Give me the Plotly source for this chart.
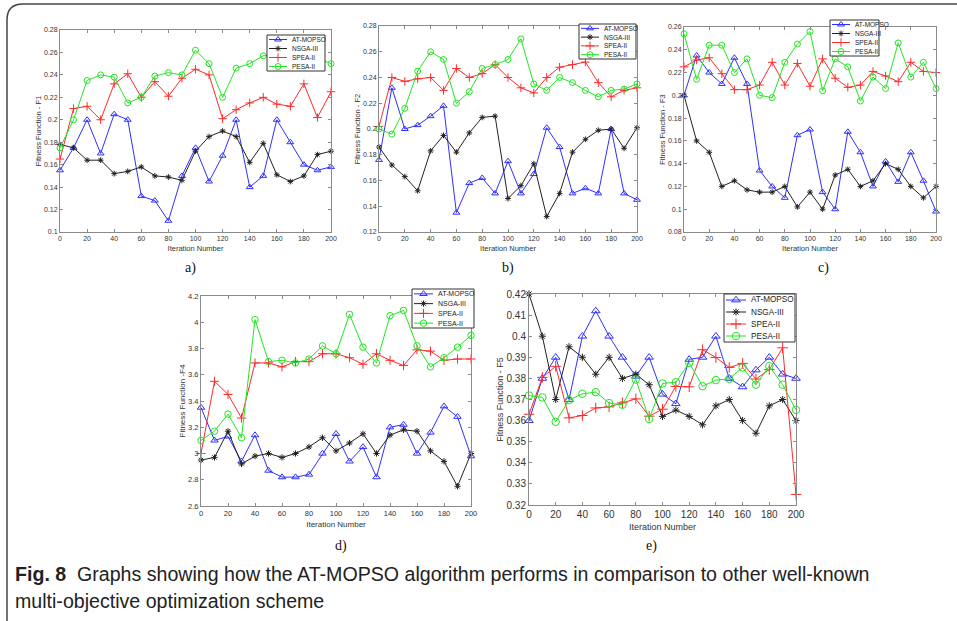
import plotly.graph_objects as go

# ---------------- data ----------------
iterations = list(range(0, 201, 10))
series_names = ["AT-MOPSO", "NSGA-III", "SPEA-II", "PESA-II"]
panel_labels = ["a)", "b)", "c)", "d)", "e)"]
y_titles = ["Fitness Function - F1", "Fitness Function - F2", "Fitness Function - F3",
            "Fitness Function -F4", "Fitness Function - F5"]
x_title = "Iteration Number"

f1_at_mopso = [0.155, 0.175, 0.200, 0.170, 0.205, 0.200, 0.132, 0.128, 0.110, 0.150, 0.175,
               0.145, 0.168, 0.200, 0.140, 0.150, 0.200, 0.180, 0.160, 0.155, 0.158]
f1_nsga3 = [0.178, 0.175, 0.164, 0.164, 0.152, 0.154, 0.158, 0.150, 0.149, 0.146, 0.172,
            0.185, 0.190, 0.185, 0.162, 0.179, 0.151, 0.145, 0.150, 0.169, 0.172]
f1_spea2 = [0.165, 0.210, 0.212, 0.200, 0.232, 0.241, 0.220, 0.234, 0.221, 0.237, 0.245,
            0.240, 0.201, 0.209, 0.215, 0.220, 0.214, 0.212, 0.232, 0.202, 0.225]
f1_pesa2 = [0.175, 0.200, 0.235, 0.240, 0.238, 0.215, 0.220, 0.239, 0.242, 0.240, 0.262,
            0.250, 0.220, 0.246, 0.250, 0.257, 0.258, 0.256, 0.259, 0.255, 0.250]

f2_at_mopso = [0.176, 0.232, 0.200, 0.203, 0.210, 0.218, 0.135, 0.158, 0.162, 0.150, 0.175,
               0.150, 0.165, 0.201, 0.186, 0.150, 0.154, 0.150, 0.200, 0.150, 0.145]
f2_nsga3 = [0.186, 0.172, 0.163, 0.152, 0.183, 0.195, 0.182, 0.197, 0.209, 0.210, 0.146,
            0.156, 0.173, 0.132, 0.150, 0.182, 0.192, 0.199, 0.200, 0.185, 0.201]
f2_spea2 = [0.202, 0.240, 0.237, 0.239, 0.240, 0.230, 0.247, 0.240, 0.243, 0.250, 0.240,
            0.232, 0.228, 0.240, 0.248, 0.250, 0.252, 0.236, 0.225, 0.230, 0.232]
f2_pesa2 = [0.200, 0.196, 0.216, 0.245, 0.260, 0.254, 0.220, 0.229, 0.247, 0.250, 0.254,
            0.270, 0.235, 0.230, 0.240, 0.236, 0.230, 0.225, 0.230, 0.231, 0.235]

f3_at_mopso = [0.200, 0.235, 0.220, 0.210, 0.233, 0.210, 0.134, 0.120, 0.110, 0.165, 0.170,
               0.115, 0.100, 0.168, 0.150, 0.120, 0.142, 0.124, 0.150, 0.125, 0.098]
f3_nsga3 = [0.200, 0.160, 0.150, 0.120, 0.125, 0.117, 0.115, 0.115, 0.120, 0.102, 0.115,
            0.100, 0.130, 0.135, 0.120, 0.125, 0.140, 0.135, 0.120, 0.110, 0.120]
f3_spea2 = [0.225, 0.231, 0.233, 0.219, 0.205, 0.205, 0.209, 0.229, 0.209, 0.228, 0.208,
            0.232, 0.215, 0.207, 0.209, 0.221, 0.217, 0.212, 0.229, 0.221, 0.220]
f3_pesa2 = [0.254, 0.214, 0.244, 0.244, 0.220, 0.232, 0.200, 0.198, 0.229, 0.245, 0.256,
            0.204, 0.232, 0.225, 0.195, 0.216, 0.206, 0.246, 0.216, 0.229, 0.206]

f4_at_mopso = [3.35, 3.10, 3.13, 2.94, 3.14, 2.87, 2.82, 2.82, 2.84, 3.00, 3.15,
               2.94, 3.05, 2.82, 3.20, 3.22, 3.00, 3.16, 3.36, 3.28, 2.98]
f4_nsga3 = [2.95, 2.97, 3.17, 2.92, 2.98, 3.00, 2.97, 3.00, 3.05, 3.12, 3.02,
            3.08, 3.15, 3.00, 3.14, 3.18, 3.17, 3.02, 2.94, 2.75, 3.00]
f4_spea2 = [3.00, 3.55, 3.45, 3.27, 3.69, 3.69, 3.66, 3.70, 3.70, 3.76, 3.76,
            3.73, 3.68, 3.76, 3.71, 3.67, 3.79, 3.78, 3.71, 3.72, 3.72]
f4_pesa2 = [3.10, 3.17, 3.30, 3.12, 4.02, 3.70, 3.71, 3.69, 3.72, 3.82, 3.76,
            4.06, 3.81, 3.69, 4.05, 4.09, 3.82, 3.66, 3.73, 3.81, 3.90]

f5_at_mopso = [0.360, 0.380, 0.390, 0.370, 0.400, 0.412, 0.400, 0.390, 0.381, 0.390, 0.3725,
               0.368, 0.389, 0.390, 0.400, 0.380, 0.376, 0.384, 0.390, 0.382, 0.380]
f5_nsga3 = [0.420, 0.400, 0.370, 0.395, 0.390, 0.382, 0.390, 0.380, 0.382, 0.377, 0.362,
            0.365, 0.362, 0.358, 0.367, 0.370, 0.360, 0.354, 0.367, 0.370, 0.360]
f5_spea2 = [0.363, 0.3805, 0.3857, 0.3613, 0.3624, 0.366, 0.3665, 0.3684, 0.3703, 0.3621, 0.3654,
            0.3762, 0.376, 0.3936, 0.3899, 0.3852, 0.3871, 0.3797, 0.3842, 0.3945, 0.325]
f5_pesa2 = [0.3719, 0.371, 0.3594, 0.3697, 0.3727, 0.3735, 0.3683, 0.3675, 0.3795, 0.3608, 0.3776,
            0.3782, 0.3874, 0.3763, 0.3792, 0.3798, 0.3852, 0.377, 0.3858, 0.377, 0.3651]

panel_series = [
    [f1_at_mopso, f1_nsga3, f1_spea2, f1_pesa2],
    [f2_at_mopso, f2_nsga3, f2_spea2, f2_pesa2],
    [f3_at_mopso, f3_nsga3, f3_spea2, f3_pesa2],
    [f4_at_mopso, f4_nsga3, f4_spea2, f4_pesa2],
    [f5_at_mopso, f5_nsga3, f5_spea2, f5_pesa2],
]
y_ranges = [(0.10, 0.28), (0.12, 0.28), (0.08, 0.26), (2.6, 4.2), (0.32, 0.42)]
y_dticks = [0.02, 0.02, 0.02, 0.2, 0.01]

# ---------------- layout helpers ----------------
W, H = 957, 621


def fx(p):
    return p / W


def fy(p):
    return 1 - p / H


# plot areas in pixels: (left, right, top, bottom)
boxes = [(60, 331, 30, 232), (379, 637, 26, 232), (684, 936, 27, 232),
         (201, 471, 296, 506), (529, 796, 294, 505)]
# legend boxes in pixels: (left, right, top, bottom)
legend_boxes = [(267, 325, 35, 71), (579, 636, 24, 59), (830, 879, 20, 56),
                (412, 474, 289, 328), (724, 795, 294, 342)]
legend_line_len = [18, 18, 18, 19, 20]
label_pos = [(190, 268), (508, 268), (823, 268), (341, 546), (651, 546)]
tick_sizes = [7, 7, 7, 7.5, 10]
title_sizes = [7.5, 7.5, 7.5, 8, 9]
legend_sizes = [6.5, 6.5, 6.5, 7, 8.2]
marker_sizes = [6, 6, 6, 6.5, 7.5]

styles = [
    dict(color="#2f2fff", symbol="triangle-up-open", k=1.0),
    dict(color="#222222", symbol="asterisk-open", k=0.8),
    dict(color="#ff2a2a", symbol="cross-thin-open", k=1.0),
    dict(color="#22e622", symbol="circle-open", k=1.0),
]

fig = go.Figure()
layout = dict(
    width=W, height=H,
    margin=dict(l=0, r=0, t=0, b=0, autoexpand=False),
    paper_bgcolor="white", plot_bgcolor="rgba(0,0,0,0)",
    font=dict(family="Liberation Sans, Arial, sans-serif", color="#333333"),
    showlegend=False,
)

annotations = []
for i in range(5):
    n = i + 1
    xa = "x" if n == 1 else f"x{n}"
    ya = "y" if n == 1 else f"y{n}"
    left, right, top, bottom = boxes[i]
    for s, name in enumerate(series_names):
        st = styles[s]
        fig.add_trace(go.Scatter(
            x=iterations, y=panel_series[i][s], name=name, mode="lines+markers",
            xaxis=xa, yaxis=ya, cliponaxis=False,
            line=dict(color=st["color"], width=1),
            marker=dict(symbol=st["symbol"], size=marker_sizes[i] * st["k"], color=st["color"],
                        line=dict(color=st["color"], width=1)),
        ))
    axis_common = dict(
        showline=True, linecolor="#8a8a8a", linewidth=1, mirror="ticks",
        ticks="inside", ticklen=3, tickcolor="#8a8a8a", showgrid=False, zeroline=False,
        automargin=False, tickfont=dict(size=tick_sizes[i], color="#333333"),
    )
    layout["xaxis" if n == 1 else f"xaxis{n}"] = dict(
        axis_common, domain=[fx(left), fx(right)], anchor=ya, range=[0, 200],
        tick0=0, dtick=20,
        title=dict(text=x_title, font=dict(size=title_sizes[i], color="#333333"), standoff=4),
    )
    layout["yaxis" if n == 1 else f"yaxis{n}"] = dict(
        axis_common, domain=[fy(bottom), fy(top)], anchor=xa, range=list(y_ranges[i]),
        tick0=y_ranges[i][0], dtick=y_dticks[i],
        title=dict(text=y_titles[i], font=dict(size=title_sizes[i], color="#333333"), standoff=1),
    )
    bx, by = label_pos[i]
    annotations.append(dict(
        x=fx(bx), y=fy(by), xref="paper", yref="paper", text=panel_labels[i],
        showarrow=False, xanchor="center", yanchor="middle",
        font=dict(family="Liberation Serif, Times New Roman, serif", size=14, color="#111111"),
    ))

# ---------------- legends (drawn on a hidden full-page overlay axis, in pixels) ----------------
layout["xaxis6"] = dict(domain=[0, 1], range=[0, W], visible=False, fixedrange=True, anchor="y6")
layout["yaxis6"] = dict(domain=[0, 1], range=[H, 0], visible=False, fixedrange=True, anchor="x6")
for i in range(5):
    x0, x1, y0, y1 = legend_boxes[i]
    fig.add_trace(go.Scatter(
        x=[x0, x1, x1, x0, x0], y=[y0, y0, y1, y1, y0], xaxis="x6", yaxis="y6",
        mode="lines", fill="toself", fillcolor="white",
        line=dict(color="#333333", width=1), hoverinfo="skip", showlegend=False,
    ))
    row_h = (y1 - y0) / 4
    for s, name in enumerate(series_names):
        st = styles[s]
        ry = y0 + (s + 0.5) * row_h
        lx0 = x0 + 2
        lx1 = lx0 + legend_line_len[i]
        fig.add_trace(go.Scatter(
            x=[lx0, lx1], y=[ry, ry], xaxis="x6", yaxis="y6", mode="lines",
            line=dict(color=st["color"], width=1), hoverinfo="skip", showlegend=False,
        ))
        fig.add_trace(go.Scatter(
            x=[(lx0 + lx1) / 2], y=[ry], xaxis="x6", yaxis="y6", mode="markers",
            marker=dict(symbol=st["symbol"], size=marker_sizes[i] * st["k"], color=st["color"],
                        line=dict(color=st["color"], width=1)),
            hoverinfo="skip", showlegend=False, cliponaxis=False,
        ))
        annotations.append(dict(
            x=fx(lx1 + 2.5), y=fy(ry), xref="paper", yref="paper", text=name,
            showarrow=False, xanchor="left", yanchor="middle",
            font=dict(size=legend_sizes[i], color="#222222"),
        ))

caption_font = dict(family="Liberation Sans, Arial, sans-serif", size=19.6, color="#222222")
annotations.append(dict(
    x=fx(13), y=fy(574), xref="paper", yref="paper", xanchor="left", yanchor="middle",
    showarrow=False, font=caption_font,
    text="<b>Fig. 8</b>  Graphs showing how the AT-MOPSO algorithm performs in comparison to other well-known",
))
annotations.append(dict(
    x=fx(13), y=fy(601), xref="paper", yref="paper", xanchor="left", yanchor="middle",
    showarrow=False, font=caption_font,
    text="multi-objective optimization scheme",
))
layout["annotations"] = annotations

# rounded frame (open at the right and bottom)
path = (f"M {fx(7)} {fy(621)} L {fx(7)} {fy(20)} "
        f"Q {fx(7)} {fy(4)} {fx(23)} {fy(4)} L {fx(957)} {fy(4)}")
layout["shapes"] = [dict(type="path", xref="paper", yref="paper", path=path,
                         line=dict(color="#444444", width=1.5))]

fig.update_layout(**layout)
fig.write_html(
    "out.html",
    config={"displayModeBar": False},
    post_script="document.body.style.margin='0';document.body.style.overflow='hidden';",
)
